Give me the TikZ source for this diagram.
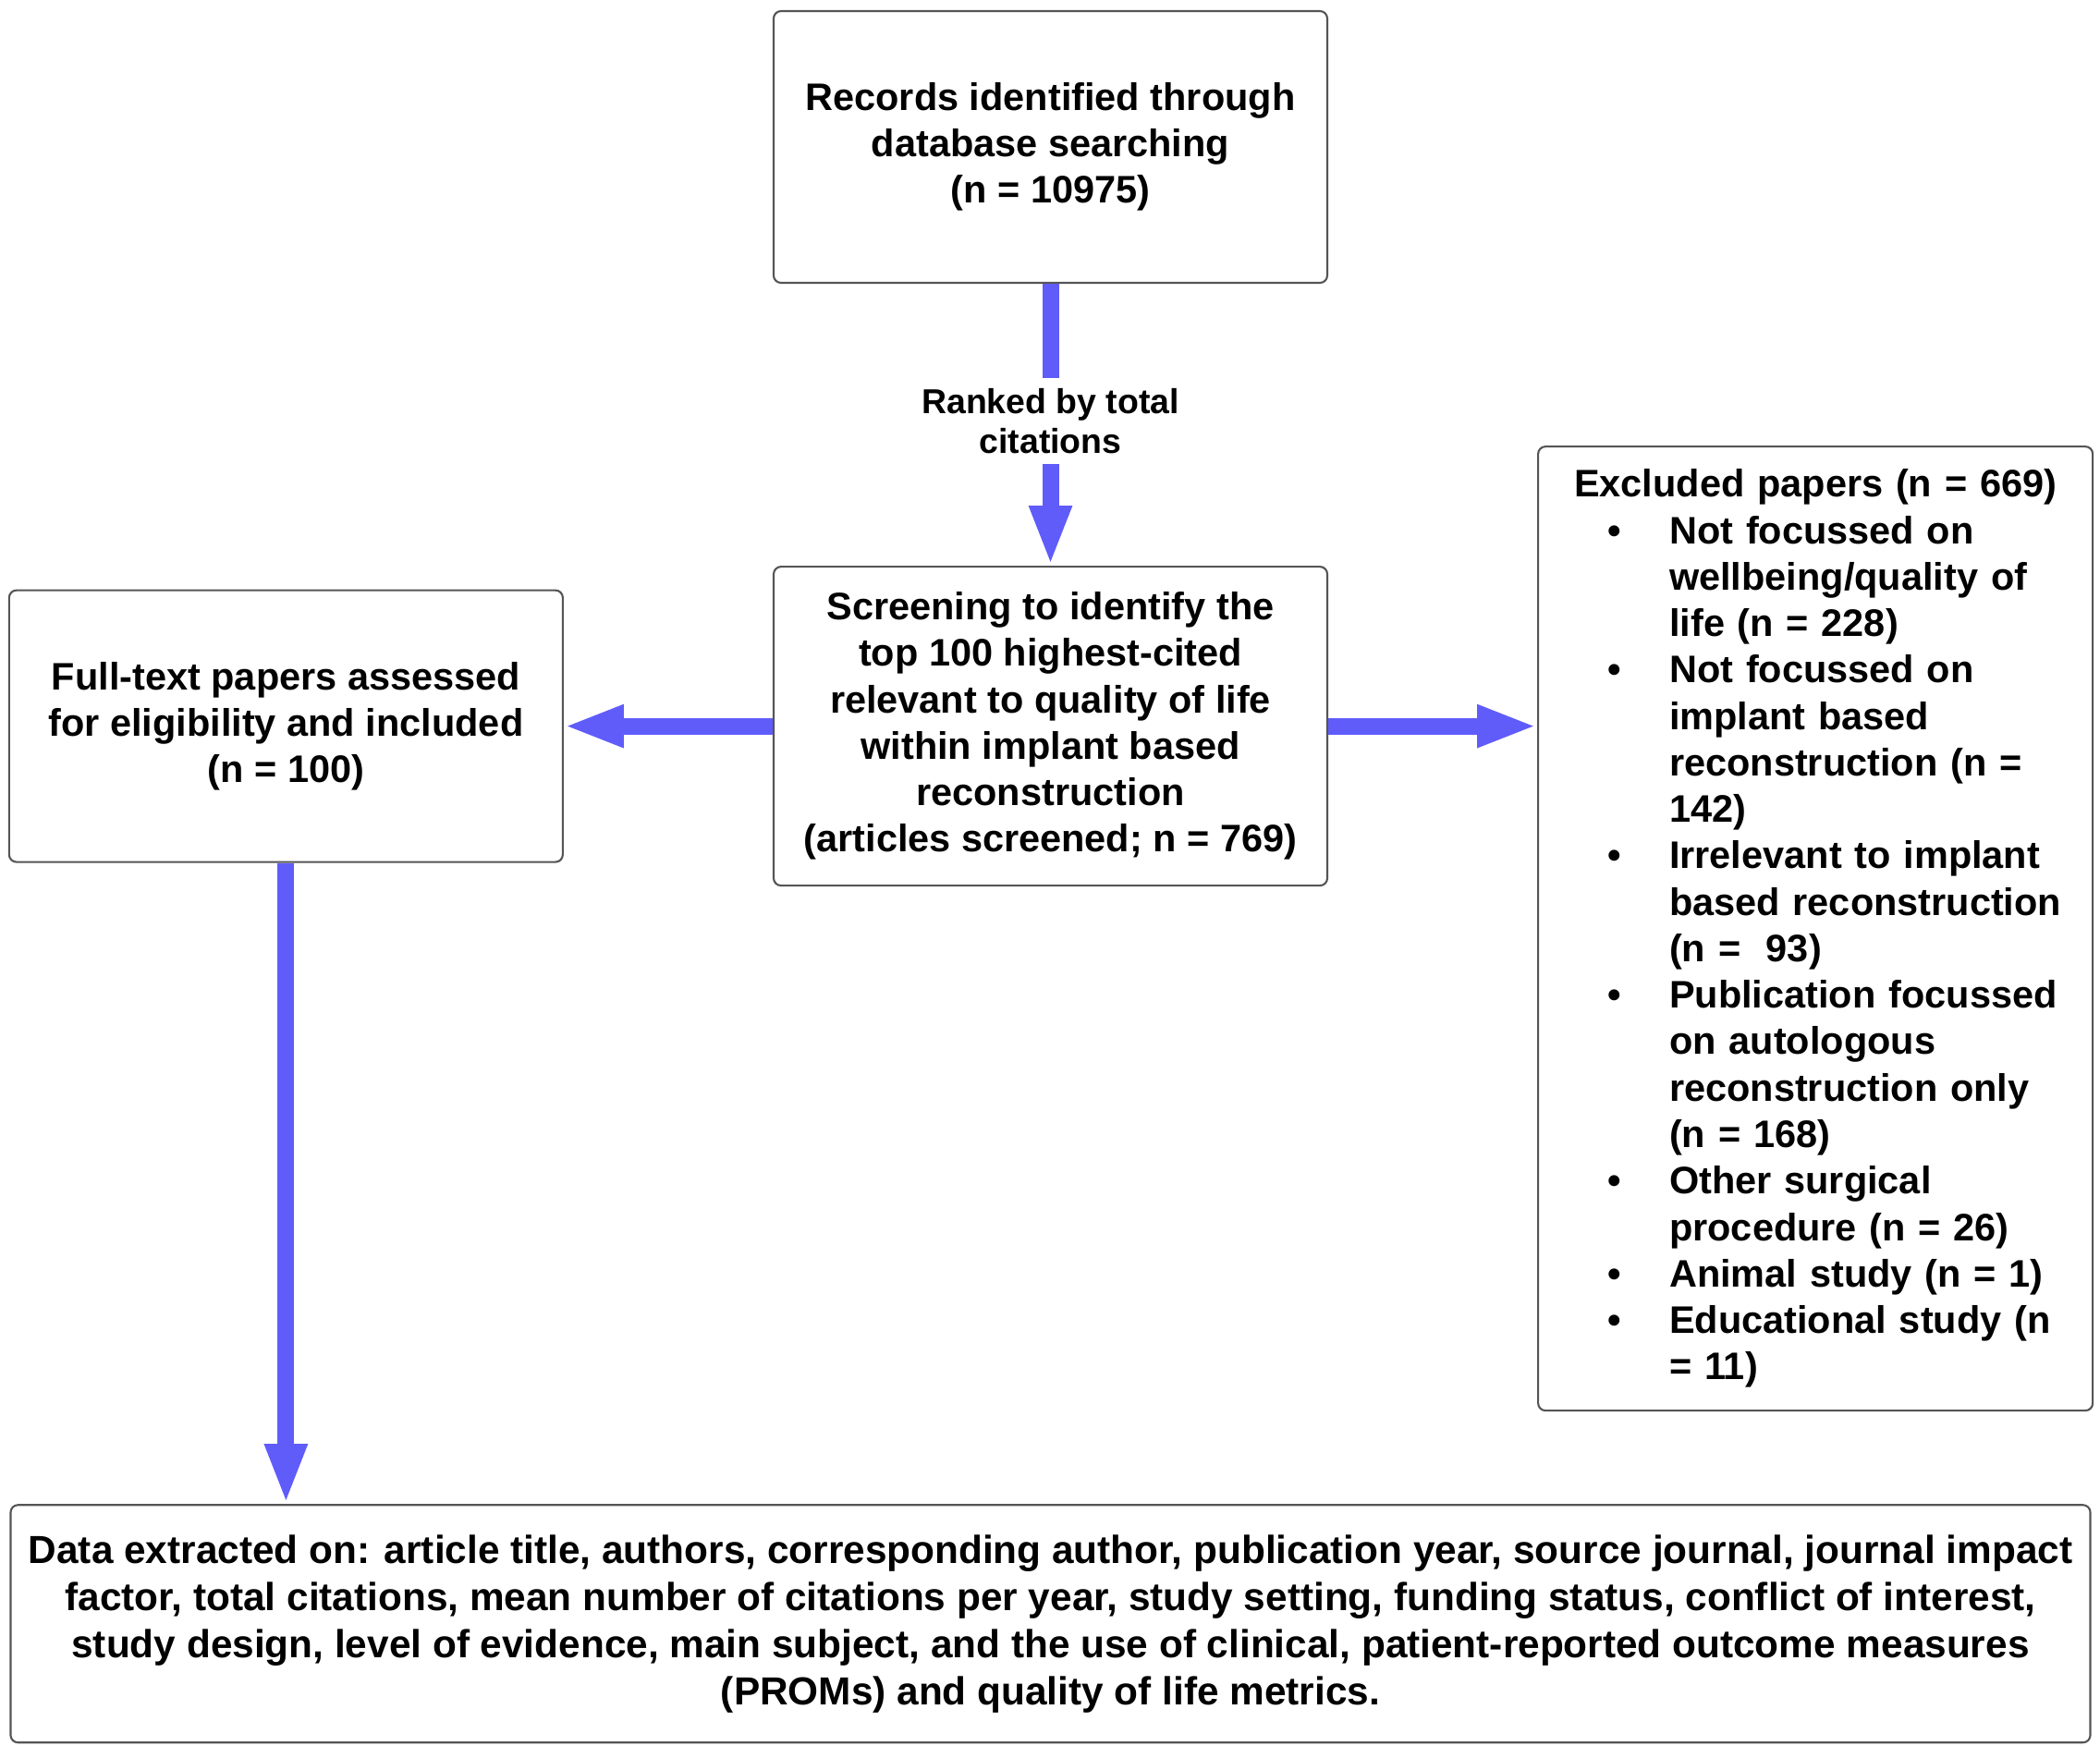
\documentclass[tikz,border=0pt]{standalone}
\usepackage{fontspec}
\setmainfont{Liberation Sans}
\usetikzlibrary{positioning,arrows.meta}
\definecolor{flowblue}{RGB}{96,92,250}
\definecolor{boxgray}{RGB}{85,85,85}
\newcommand{\xitem}[1]{{\let\\\newline\noindent\hangindent=1.27cm\hangafter=1\makebox[1.27cm][l]{\hspace{0.6cm}\textbullet}#1\par}}

\begin{document}
\begin{tikzpicture}[
                box/.style={draw=boxgray,line width=0.6pt,rounded corners=0.08cm,minimum width=5.99cm,align=center,font=\bfseries\fontsize{11.8}{14.3}\selectfont},
                flow/.style={draw=flowblue,line width=0.18cm,-{Triangle[length=0.65cm,width=0.42cm]}},
                lbl/.style={fill=white,align=center,inner xsep=2pt,inner ysep=3pt,font=\bfseries\fontsize{10.65}{12.4}\selectfont}
            ]
                \useasboundingbox (0,0) rectangle (22.72,-18.88);
                \node[box,minimum height=2.94cm] (rec) at (11.365,-1.59) {Records identified through\\database searching\\(n = 10975)};
                \node[box,minimum height=3.45cm] (scr) [below=3.05cm of rec] {Screening to identify the\\top 100 highest-cited\\relevant to quality of life\\within implant based\\reconstruction\\(articles screened; n = 769)};
                \node[box,minimum height=2.94cm] (full) [left=2.26cm of scr] {Full-text papers assessed\\for eligibility and included\\(n = 100)};
                \node[box,minimum width=6cm,minimum height=10.43cm,text width=5.7cm,inner xsep=0.15cm] (exc) [right=2.26cm of scr.north east,anchor=north west,yshift=1.3cm] {%
                    {\centering Excluded papers (n = 669)\par}
                    \raggedright\hyphenpenalty=10000
                    \xitem{Not focussed on\\wellbeing/quality of\\life (n = 228)}
                    \xitem{Not focussed on\\implant based\\reconstruction (n =\\142)}
                    \xitem{Irrelevant to implant\\based reconstruction\\(n = \ 93)}
                    \xitem{Publication focussed\\on autologous\\reconstruction only\\(n = 168)}
                    \xitem{Other surgical\\procedure (n = 26)}
                    \xitem{Animal study (n = 1)}
                    \xitem{Educational study (n\\= 11)}};
                \node[box,minimum width=22.5cm,minimum height=2.57cm,font=\bfseries\fontsize{12.05}{14.5}\selectfont] (dat) [below=6.68cm of scr] {Data extracted on: article title, authors, corresponding author, publication year, source journal, journal impact\\factor, total citations, mean number of citations per year, study setting, funding status, conflict of interest,\\study design, level of evidence, main subject, and the use of clinical, patient-reported outcome measures\\(PROMs) and quality of life metrics.};
                \draw[flow] (rec) -- node[lbl,yshift=0.04cm] {Ranked by total\\citations} (scr);
                \draw[flow] (scr) -- (full);
                \draw[flow] (scr) -- (scr -| exc.west);
                \draw[flow] (full) -- (full |- dat.north);
            \end{tikzpicture}
\end{document}
